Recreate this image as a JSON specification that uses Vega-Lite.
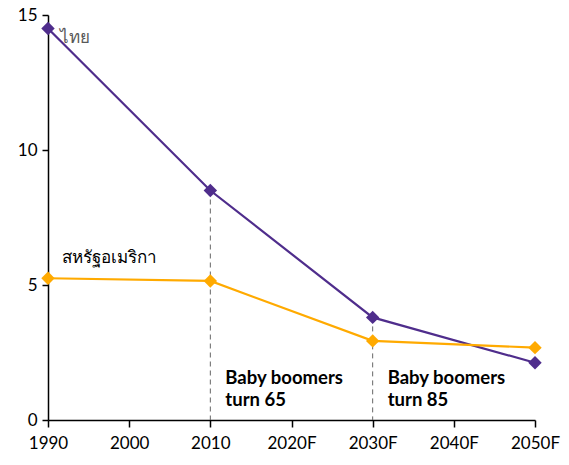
{
  "$schema": "https://vega.github.io/schema/vega-lite/v6.json",
  "width": 487,
  "height": 405,
  "autosize": {"type": "none"},
  "padding": {"left": 48, "top": 15, "right": 34, "bottom": 45},
  "background": "white",
  "config": {
    "view": {"stroke": null},
    "font": "Lato"
  },
  "datasets": {
    "series": [
      {"country": "ไทย", "year": "1990", "value": 14.5},
      {"country": "ไทย", "year": "2010", "value": 8.5},
      {"country": "ไทย", "year": "2030F", "value": 3.8},
      {"country": "ไทย", "year": "2050F", "value": 2.12},
      {"country": "สหรัฐอเมริกา", "year": "1990", "value": 5.25},
      {"country": "สหรัฐอเมริกา", "year": "2010", "value": 5.15},
      {"country": "สหรัฐอเมริกา", "year": "2030F", "value": 2.93},
      {"country": "สหรัฐอเมริกา", "year": "2050F", "value": 2.68}
    ],
    "rules": [
      {"year": "2010", "top": 8.5, "bottom": 0},
      {"year": "2030F", "top": 3.8, "bottom": 0}
    ],
    "notes": [
      {"year": "2010", "value": 1.9, "lines": ["Baby boomers", "turn 65"]},
      {"year": "2030F", "value": 1.9, "lines": ["Baby boomers", "turn 85"]}
    ]
  },
  "layer": [
    {
      "data": {"name": "rules"},
      "mark": {"type": "rule", "strokeDash": [5, 4], "color": "#666666", "strokeWidth": 1},
      "encoding": {
        "x": {
          "field": "year",
          "type": "ordinal",
          "sort": null,
          "scale": {"type": "point", "padding": 0, "domain": ["1990", "2000", "2010", "2020F", "2030F", "2040F", "2050F"]},
          "axis": {
            "title": null,
            "labelAngle": 0,
            "grid": false,
            "domainColor": "black",
            "domainWidth": 1.5,
            "tickColor": "black",
            "tickWidth": 1.5,
            "tickSize": 7,
            "labelPadding": 8,
            "labelFont": "Lato",
            "labelFontSize": 17,
            "labelColor": "black"
          }
        },
        "y": {
          "field": "top",
          "type": "quantitative",
          "scale": {"domain": [0, 15], "nice": false},
          "axis": {
            "title": null,
            "values": [0, 5, 10, 15],
            "grid": false,
            "domainColor": "black",
            "domainWidth": 1.5,
            "tickColor": "black",
            "tickWidth": 1.5,
            "tickSize": 6,
            "labelPadding": 5,
            "labelFont": "Lato",
            "labelFontSize": 17,
            "labelColor": "black"
          }
        },
        "y2": {"field": "bottom"}
      }
    },
    {
      "data": {"name": "series"},
      "mark": {"type": "line", "strokeWidth": 2.2},
      "encoding": {
        "x": {"field": "year", "type": "ordinal", "sort": null},
        "y": {"field": "value", "type": "quantitative"},
        "color": {
          "field": "country",
          "type": "nominal",
          "scale": {"domain": ["ไทย", "สหรัฐอเมริกา"], "range": ["#4F2D8C", "#FFAA00"]},
          "legend": null
        }
      }
    },
    {
      "data": {"name": "series"},
      "mark": {"type": "point", "shape": "diamond", "filled": true, "size": 180, "opacity": 1},
      "encoding": {
        "x": {"field": "year", "type": "ordinal", "sort": null},
        "y": {"field": "value", "type": "quantitative"},
        "color": {"field": "country", "type": "nominal", "legend": null}
      }
    },
    {
      "data": {"name": "series"},
      "transform": [{"filter": "datum.year == '1990' && datum.country == 'ไทย'"}],
      "mark": {"type": "text", "align": "left", "baseline": "middle", "dx": 12, "dy": 9, "fontSize": 17, "color": "#595959"},
      "encoding": {
        "x": {"field": "year", "type": "ordinal", "sort": null},
        "y": {"field": "value", "type": "quantitative"},
        "text": {"field": "country"}
      }
    },
    {
      "data": {"name": "series"},
      "transform": [{"filter": "datum.year == '1990' && datum.country == 'สหรัฐอเมริกา'"}],
      "mark": {"type": "text", "align": "left", "baseline": "middle", "dx": 14, "dy": -20, "fontSize": 17, "color": "black"},
      "encoding": {
        "x": {"field": "year", "type": "ordinal", "sort": null},
        "y": {"field": "value", "type": "quantitative"},
        "text": {"field": "country"}
      }
    },
    {
      "data": {"name": "notes"},
      "mark": {"type": "text", "align": "left", "baseline": "top", "dx": 15, "fontSize": 18.5, "fontWeight": "bold", "lineHeight": 22, "color": "black"},
      "encoding": {
        "x": {"field": "year", "type": "ordinal", "sort": null},
        "y": {"field": "value", "type": "quantitative"},
        "text": {"field": "lines"}
      }
    }
  ]
}
